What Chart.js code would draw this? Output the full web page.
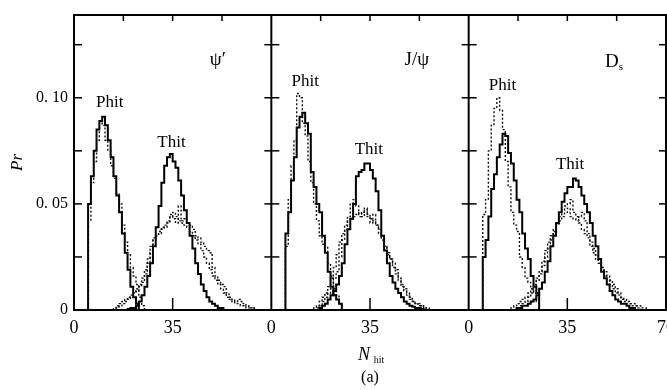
<!DOCTYPE html>
<html lang="en">
<head>
    <meta charset="UTF-8">
    <title>Phit / Thit distributions</title>
    <script src="https://cdn.jsdelivr.net/npm/chart.js"></script>
    <style>
        body {
            margin: 0;
            background: #fff;
        }
        #wrap {
            width: 667px;
            height: 390px;
        }
    </style>
</head>
<body>
    <div id="wrap">
        <canvas id="hitChart" width="667" height="390"></canvas>
    </div>

    <script>
        // Panels, left to right
        const panelNames = ["ψ′", "J/ψ", "Ds"];
        const panelWidth = 70;             // N_hit range of one panel
        const xTickValues = [0, 35];       // labelled ticks in every panel
        const yTickValues = [0, 0.025, 0.05, 0.075, 0.10, 0.125];
        const yTickLabels = { 0: "0", 50: "0. 05", 100: "0. 10" };

        // Histogram bins are 1 hit wide; arrays start at these bins
        const phitFirstBin = 5;
        const thitFirstBin = 14;

        // psi'  (solid = full, dotted = others)
        const psiPhitSolid = [0.050, 0.063, 0.075, 0.085, 0.089, 0.091, 0.087, 0.080, 0.072, 0.063, 0.054, 0.046, 0.036, 0.027, 0.019, 0.011, 0.006, 0.003];
        const psiPhitDot   = [0.042, 0.060, 0.070, 0.080, 0.088, 0.087, 0.080, 0.075, 0.068, 0.062, 0.055, 0.050, 0.040, 0.032, 0.026, 0.020, 0.016, 0.012, 0.006, 0.002];
        const psiThitSolid = [0, 0, 0, 0, 0, 0.0005, 0.001, 0.001, 0.002, 0.004, 0.007, 0.011, 0.016, 0.022, 0.030, 0.039, 0.049, 0.060, 0.068, 0.072, 0.0735, 0.070, 0.067, 0.061, 0.054, 0.047, 0.041, 0.035, 0.029, 0.022, 0.017, 0.012, 0.009, 0.006, 0.004, 0.003, 0.002, 0.001, 0.001];
        const psiThitDotA  = [0.001, 0.002, 0.003, 0.004, 0.005, 0.006, 0.007, 0.008, 0.009, 0.011, 0.013, 0.017, 0.022, 0.027, 0.033, 0.035, 0.036, 0.038, 0.039, 0.041, 0.044, 0.046, 0.044, 0.042, 0.041, 0.040, 0.039, 0.037, 0.035, 0.033, 0.031, 0.028, 0.025, 0.022, 0.019, 0.016, 0.014, 0.012, 0.010, 0.008, 0.006, 0.005, 0.004, 0.003, 0.003, 0.002, 0.002, 0.001, 0.001, 0.001];
        const psiThitDotB  = [0, 0.001, 0.002, 0.003, 0.004, 0.005, 0.006, 0.008, 0.010, 0.012, 0.015, 0.019, 0.024, 0.030, 0.034, 0.035, 0.037, 0.039, 0.040, 0.042, 0.045, 0.043, 0.041, 0.049, 0.042, 0.043, 0.041, 0.040, 0.038, 0.035, 0.034, 0.032, 0.030, 0.028, 0.027, 0.020, 0.016, 0.014, 0.012, 0.011, 0.008, 0.006, 0.005, 0.004, 0.005, 0.004, 0.003, 0.002, 0.001, 0.001];

        // J/psi
        const jpsiPhitSolid = [0.036, 0.046, 0.061, 0.072, 0.086, 0.091, 0.093, 0.088, 0.083, 0.065, 0.058, 0.050, 0.046, 0.035, 0.027, 0.018, 0.011, 0.007, 0.005, 0.003];
        const jpsiPhitDot   = [0.030, 0.052, 0.068, 0.080, 0.102, 0.100, 0.088, 0.082, 0.070, 0.060, 0.050, 0.042, 0.035, 0.031, 0.030, 0.022, 0.016, 0.010, 0.007, 0.003];
        const jpsiThitSolid = [0, 0, 0, 0.001, 0.002, 0.003, 0.005, 0.007, 0.009, 0.012, 0.016, 0.022, 0.031, 0.038, 0.043, 0.050, 0.063, 0.065, 0.066, 0.069, 0.069, 0.066, 0.062, 0.056, 0.047, 0.035, 0.028, 0.022, 0.016, 0.013, 0.010, 0.008, 0.006, 0.004, 0.003, 0.002, 0.0015, 0.001, 0.001, 0.0005];
        const jpsiThitDotA  = [0, 0.001, 0.002, 0.004, 0.006, 0.008, 0.011, 0.015, 0.020, 0.026, 0.032, 0.036, 0.040, 0.042, 0.043, 0.044, 0.045, 0.046, 0.044, 0.047, 0.045, 0.043, 0.042, 0.040, 0.038, 0.034, 0.030, 0.027, 0.024, 0.020, 0.017, 0.014, 0.011, 0.009, 0.007, 0.005, 0.004, 0.003, 0.002, 0.002, 0.001, 0.001];
        const jpsiThitDotB  = [0, 0, 0.001, 0.002, 0.004, 0.006, 0.008, 0.010, 0.015, 0.018, 0.025, 0.033, 0.038, 0.044, 0.050, 0.052, 0.049, 0.044, 0.046, 0.048, 0.044, 0.041, 0.045, 0.040, 0.036, 0.033, 0.030, 0.026, 0.024, 0.022, 0.019, 0.015, 0.012, 0.010, 0.008, 0.006, 0.004, 0.003, 0.003, 0.002, 0.001];

        // Ds
        const dsPhitSolid = [0.025, 0.033, 0.044, 0.057, 0.064, 0.072, 0.078, 0.083, 0.082, 0.074, 0.069, 0.061, 0.052, 0.046, 0.036, 0.029, 0.024, 0.016, 0.011, 0.008];
        const dsPhitDot   = [0.045, 0.052, 0.075, 0.087, 0.095, 0.100, 0.094, 0.085, 0.070, 0.058, 0.046, 0.040, 0.037, 0.025, 0.020, 0.015, 0.013, 0.010, 0.008, 0.004];
        const dsThitSolid = [0, 0, 0, 0.001, 0.001, 0.002, 0.002, 0.003, 0.004, 0.005, 0.007, 0.010, 0.013, 0.018, 0.023, 0.030, 0.035, 0.041, 0.046, 0.051, 0.055, 0.058, 0.058, 0.062, 0.061, 0.058, 0.054, 0.050, 0.046, 0.041, 0.035, 0.030, 0.024, 0.018, 0.015, 0.012, 0.009, 0.007, 0.005, 0.004, 0.003, 0.003, 0.002, 0.001, 0.001];
        const dsThitDotA  = [0, 0.001, 0.002, 0.003, 0.004, 0.005, 0.006, 0.008, 0.010, 0.012, 0.015, 0.018, 0.023, 0.028, 0.032, 0.035, 0.038, 0.041, 0.044, 0.047, 0.049, 0.050, 0.052, 0.046, 0.044, 0.041, 0.038, 0.036, 0.034, 0.032, 0.029, 0.026, 0.023, 0.020, 0.018, 0.016, 0.014, 0.012, 0.010, 0.008, 0.006, 0.005, 0.004, 0.003, 0.003, 0.002, 0.002, 0.001, 0.001];
        const dsThitDotB  = [0, 0, 0, 0.001, 0.002, 0.003, 0.004, 0.006, 0.008, 0.011, 0.014, 0.017, 0.021, 0.025, 0.029, 0.033, 0.037, 0.040, 0.042, 0.044, 0.046, 0.048, 0.044, 0.043, 0.042, 0.044, 0.046, 0.042, 0.036, 0.030, 0.027, 0.024, 0.022, 0.019, 0.016, 0.014, 0.012, 0.010, 0.008, 0.007, 0.005, 0.004, 0.003, 0.003, 0.002, 0.002, 0.001];

        const serif = "'Liberation Serif', 'DejaVu Serif', serif";

        // turn a bin array into step points, moved into its panel
        function hist(firstBin, vals, panel) {
            const off = panel * panelWidth;
            const pts = [{ x: off + firstBin, y: 0 }];
            vals.forEach((v, i) => pts.push({ x: off + firstBin + i, y: v }));
            pts.push({ x: off + firstBin + vals.length, y: 0 });
            return pts;
        }

        function solid(data) {
            return { data, stepped: true, borderColor: '#000', borderWidth: 2, pointRadius: 0, fill: false };
        }
        function dotted(data) {
            return { data, stepped: true, borderColor: '#111', borderWidth: 1.4, borderDash: [2, 2], pointRadius: 0, fill: false };
        }

        const datasets = [
            dotted(hist(phitFirstBin, psiPhitDot, 0)),
            dotted(hist(thitFirstBin, psiThitDotA, 0)),
            dotted(hist(thitFirstBin, psiThitDotB, 0)),
            solid(hist(phitFirstBin, psiPhitSolid, 0)),
            solid(hist(thitFirstBin, psiThitSolid, 0)),

            dotted(hist(phitFirstBin, jpsiPhitDot, 1)),
            dotted(hist(thitFirstBin, jpsiThitDotA, 1)),
            dotted(hist(thitFirstBin, jpsiThitDotB, 1)),
            solid(hist(phitFirstBin, jpsiPhitSolid, 1)),
            solid(hist(thitFirstBin, jpsiThitSolid, 1)),

            dotted(hist(phitFirstBin, dsPhitDot, 2)),
            dotted(hist(thitFirstBin, dsThitDotA, 2)),
            dotted(hist(thitFirstBin, dsThitDotB, 2)),
            solid(hist(phitFirstBin, dsPhitSolid, 2)),
            solid(hist(thitFirstBin, dsThitSolid, 2))
        ];

        // frame, panel dividers, tick marks and the free text
        const framePlugin = {
            id: 'frame',
            afterDatasetsDraw(chart) {
                const { ctx, chartArea: a, scales: { x, y } } = chart;
                ctx.save();
                ctx.strokeStyle = '#000';
                ctx.lineWidth = 2;
                ctx.strokeRect(a.left, a.top, a.right - a.left, a.bottom - a.top);

                // dividers between panels
                for (let p = 1; p < panelNames.length; p++) {
                    const px = x.getPixelForValue(p * panelWidth);
                    ctx.beginPath();
                    ctx.moveTo(px, a.top);
                    ctx.lineTo(px, a.bottom);
                    ctx.stroke();
                }

                // y ticks on every vertical line
                ctx.lineWidth = 1.5;
                yTickValues.slice(1).forEach(v => {
                    const py = y.getPixelForValue(v);
                    for (let p = 0; p <= panelNames.length; p++) {
                        const px = x.getPixelForValue(p * panelWidth);
                        const l = p === 0 ? 0 : 7;
                        const r = p === panelNames.length ? 0 : 8;
                        ctx.beginPath();
                        ctx.moveTo(px - l, py);
                        ctx.lineTo(px + r, py);
                        ctx.stroke();
                    }
                });

                // x ticks: top at quarters, bottom at the middle
                for (let p = 0; p < panelNames.length; p++) {
                    [17.5, 35, 52.5].forEach(v => {
                        const px = x.getPixelForValue(p * panelWidth + v);
                        ctx.beginPath();
                        ctx.moveTo(px, a.top);
                        ctx.lineTo(px, a.top + 6);
                        ctx.stroke();
                    });
                    const mx = x.getPixelForValue(p * panelWidth + 35);
                    ctx.beginPath();
                    ctx.moveTo(mx, a.bottom);
                    ctx.lineTo(mx, a.bottom - 12);
                    ctx.stroke();
                }
                ctx.restore();
            },
            afterDraw(chart) {
                const { ctx, chartArea: a, scales: { x, y } } = chart;
                const at = (panel, v, p) => [x.getPixelForValue(panel * panelWidth + v), y.getPixelForValue(p)];
                ctx.save();
                ctx.fillStyle = '#000';
                ctx.textAlign = 'center';
                ctx.textBaseline = 'middle';
                ctx.font = '17px ' + serif;

                // curve labels
                const phitPos = [[12.7, 0.0976], [12, 0.1075], [12, 0.1057]];
                const thitPos = [[34.6, 0.079], [34.6, 0.0755], [36, 0.0684]];
                phitPos.forEach((q, p) => ctx.fillText('Phit', ...at(p, q[0], q[1])));
                thitPos.forEach((q, p) => ctx.fillText('Thit', ...at(p, q[0], q[1])));

                // panel names
                ctx.font = '19px ' + serif;
                ctx.fillText(panelNames[0], ...at(0, 51, 0.118));
                ctx.fillText(panelNames[1], ...at(1, 51.6, 0.118));
                const [dx, dy] = at(2, 51.5, 0.117);
                ctx.fillText('D', dx - 2, dy);
                ctx.font = '11px ' + serif;
                ctx.fillText('s', dx + 7, dy + 5);

                // axis titles
                const cx = x.getPixelForValue(panelWidth + 35);
                ctx.font = 'italic 18px ' + serif;
                ctx.fillText('N', cx - 6, a.bottom + 45);
                ctx.font = '10px ' + serif;
                ctx.fillText('hit', cx + 9, a.bottom + 50);
                ctx.font = '16px ' + serif;
                ctx.fillText('(a)', cx, a.bottom + 68);

                ctx.translate(18, (a.top + a.bottom) / 2);
                ctx.rotate(-Math.PI / 2);
                ctx.font = 'italic 17px ' + serif;
                ctx.fillText('Pr', 0, 0);
                ctx.restore();
            }
        };

        const ctx = document.getElementById('hitChart').getContext('2d');
        new Chart(ctx, {
            type: 'line',
            data: { datasets },
            options: {
                responsive: false,
                animation: false,
                layout: { padding: { top: 15, right: 1, left: 0, bottom: 0 } },
                plugins: {
                    legend: { display: false },
                    tooltip: { enabled: false }
                },
                scales: {
                    x: {
                        type: 'linear',
                        min: 0,
                        max: panelWidth * panelNames.length,
                        grid: { display: false, drawTicks: false },
                        border: { display: false },
                        afterBuildTicks(scale) {
                            const t = [];
                            panelNames.forEach((_, p) => xTickValues.forEach(v => t.push({ value: p * panelWidth + v })));
                            t.push({ value: panelWidth * panelNames.length });
                            scale.ticks = t;
                        },
                        afterFit(scale) {
                            scale.height = 80;
                            // let the last label run off the edge, like the original
                            scale.paddingLeft = 0;
                            scale.paddingRight = 0;
                        },
                        ticks: {
                            padding: 7,
                            maxRotation: 0,
                            autoSkip: false,
                            color: '#000',
                            font: { family: serif, size: 18 },
                            callback: v => v === panelWidth * panelNames.length ? String(panelWidth) : String(v % panelWidth)
                        }
                    },
                    y: {
                        min: 0,
                        max: 0.139,
                        grid: { display: false, drawTicks: false },
                        border: { display: false },
                        afterBuildTicks(scale) {
                            scale.ticks = yTickValues.map(v => ({ value: v }));
                        },
                        afterFit(scale) {
                            scale.width = 74;
                            scale.paddingTop = 0;
                            scale.paddingBottom = 0;
                        },
                        ticks: {
                            padding: 6,
                            autoSkip: false,
                            color: '#000',
                            font: { family: serif, size: 16 },
                            callback: v => yTickLabels[Math.round(v * 1000)] ?? ''
                        }
                    }
                }
            },
            plugins: [framePlugin]
        });
    </script>
</body>
</html>
